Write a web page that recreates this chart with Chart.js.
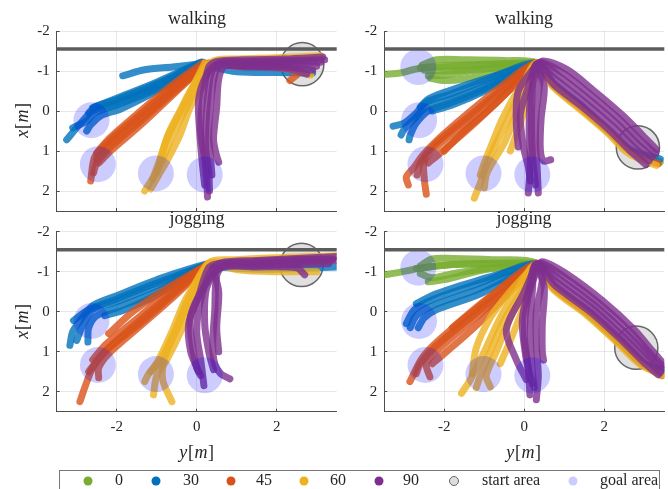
<!DOCTYPE html>
<html>
<head>
<meta charset="utf-8">
<script src="https://cdn.jsdelivr.net/npm/chart.js@4.4.1/dist/chart.umd.min.js"></script>
<style>
  body { margin:0; width:668px; height:489px; overflow:hidden; position:relative; background:#fff;
         font-family:"Liberation Serif", "DejaVu Serif", serif; color:#262626; }
  canvas { position:absolute; }
  .t { position:absolute; transform:translate(-50%,-50%); white-space:nowrap; font-size:18px; }
  .ax { position:absolute; white-space:nowrap; font-size:18px; letter-spacing:0.6px; }
  #legend { position:absolute; left:59px; top:470px; width:601px; height:30px; box-sizing:border-box;
            border:1.5px solid #777; }
  #legend .m { position:absolute; width:9px; height:9px; border-radius:50%; transform:translate(-50%,-50%); top:10px; }
  #legend .l { position:absolute; transform:translate(-50%,-50%); top:9px; font-size:16px; white-space:nowrap; }
</style>
</head>
<body>
<canvas id="c1" width="345" height="215" style="left:0;top:0"></canvas>
<canvas id="c2" width="338" height="215" style="left:330px;top:0"></canvas>
<canvas id="c3" width="345" height="222" style="left:0;top:225px"></canvas>
<canvas id="c4" width="338" height="222" style="left:330px;top:225px"></canvas>

<div class="t" style="left:197px;top:18px">walking</div>
<div class="t" style="left:524px;top:18px">walking</div>
<div class="t" style="left:197px;top:218px">jogging</div>
<div class="t" style="left:524px;top:218px">jogging</div>
<div class="ax" style="left:22px;top:120px;transform:translate(-50%,-50%) rotate(-90deg)"><i>x</i>[<i>m</i>]</div>
<div class="ax" style="left:22px;top:321px;transform:translate(-50%,-50%) rotate(-90deg)"><i>x</i>[<i>m</i>]</div>
<div class="ax" style="left:197px;top:452px;transform:translate(-50%,-50%)"><i>y</i>[<i>m</i>]</div>
<div class="ax" style="left:524px;top:452px;transform:translate(-50%,-50%)"><i>y</i>[<i>m</i>]</div>
<div id="legend"></div>

<script>
// ---- data (y[m] horizontal, x[m] vertical) ----
const angles = ['0', '30', '45', '60', '90'];
const xTicks = [-2, 0, 2];
const yTicks = [-2, -1, 0, 1, 2];
const wallX = -1.55;
const goalY = [-2.65, -2.63, -2.47, -1.02, 0.2];
const goalX = [-1.1, 0.23, 1.33, 1.56, 1.59];
const goalRadius = 0.45;
const startRadius = 0.54;
const startWalkA = [2.64, -1.17];
const startWalkB = [2.84, 0.91];
const startJogA = [2.62, -1.17];
const startJogB = [2.8, 0.9];

// walking, start top right
const walkA30 = [
  [[2.9,-0.95],[2.0,-0.96],[1.0,-0.98],[0.4,-1.1],[0.1,-1.2],[-1.0,-0.62],[-2.0,-0.2],[-2.6,0.0],[-2.9,0.3],[-3.25,0.72]],
  [[0.15,-1.22],[-1.0,-0.68],[-2.0,-0.28],[-2.55,-0.1],[-2.7,0.05]],
  [[0.2,-1.2],[-1.0,-0.55],[-2.0,-0.15],[-2.55,0.05],[-2.75,0.25],[-3.1,0.42]],
  [[0.2,-1.18],[-1.0,-0.5],[-1.9,-0.05],[-2.4,0.12],[-2.65,0.35],[-2.75,0.5]],
  [[0.1,-1.22],[-1.0,-0.72],[-2.0,-0.32],[-2.6,-0.08]],
  [[0.1,-1.18],[-0.6,-1.1],[-1.3,-1.03],[-1.85,-0.88]]
];
const walkA45 = [
  [[2.33,-0.76],[2.55,-0.98],[2.0,-1.1],[1.0,-1.12],[0.3,-1.18],[-0.6,-0.6],[-1.4,0.08],[-2.2,0.75],[-2.55,1.15],[-2.65,1.75]],
  [[0.25,-1.18],[-0.6,-0.45],[-1.4,0.25],[-2.2,0.95],[-2.5,1.3],[-2.58,1.55]],
  [[0.3,-1.2],[-0.6,-0.52],[-1.4,0.18],[-2.25,0.88],[-2.5,1.2]],
  [[0.2,-1.15],[-0.6,-0.4],[-1.4,0.35],[-2.15,1.0],[-2.45,1.3]],
  [[0.15,-1.2],[-0.6,-0.66],[-1.4,0.0],[-2.2,0.7],[-2.5,1.05]]
];
const walkA60 = [
  [[3.1,-1.38],[2.0,-1.33],[1.0,-1.3],[0.4,-1.24],[0.0,-0.6],[-0.3,0.0],[-0.6,0.6],[-0.85,1.2],[-1.05,1.6],[-1.3,2.0]],
  [[2.85,-0.9],[2.3,-1.05],[1.5,-1.14],[0.35,-1.2],[-0.1,-0.6],[-0.42,0.0],[-0.72,0.6],[-0.9,1.2],[-1.0,1.55]],
  [[0.3,-1.15],[0.05,-0.55],[-0.2,0.0],[-0.42,0.6],[-0.72,1.2],[-0.95,1.6],[-1.15,1.95]],
  [[0.2,-1.2],[-0.15,-0.5],[-0.45,0.1],[-0.75,0.7],[-0.95,1.3],[-1.1,1.7]]
];
const walkA90 = [
  [[3.15,-1.35],[2.2,-1.3],[1.2,-1.28],[0.5,-1.24],[0.3,-1.1],[0.15,-0.3],[0.1,0.5],[0.2,1.2],[0.25,1.7],[0.27,2.15]],
  [[3.1,-1.22],[2.2,-1.22],[1.2,-1.2],[0.6,-1.18],[0.45,-0.9],[0.35,-0.2],[0.3,0.6],[0.35,1.2],[0.38,1.6]],
  [[3.0,-1.12],[2.2,-1.15],[1.2,-1.14],[0.7,-1.12],[0.55,-0.8],[0.5,-0.1],[0.42,0.7],[0.48,1.05],[0.55,1.28]],
  [[2.9,-1.02],[2.2,-1.1],[1.2,-1.1],[0.5,-1.15],[0.25,-0.9],[0.05,-0.3],[0.08,0.6],[0.15,1.4],[0.2,1.85]],
  [[3.2,-1.28],[2.4,-1.26],[1.2,-1.24],[0.55,-1.2],[0.35,-0.9],[0.25,0.0],[0.22,0.9],[0.3,1.5],[0.32,2.0]],
  [[2.75,-0.92],[2.3,-1.05],[1.5,-1.12],[0.8,-1.15]]
];

// walking, start lower right
const walkB0 = [
  [[3.4,1.28],[2.7,1.0],[2.1,0.52],[1.4,-0.08],[0.72,-0.65],[0.3,-1.2],[-0.5,-1.26],[-1.5,-1.28],[-2.2,-1.28],[-2.55,-1.15]],
  [[0.3,-1.2],[-0.5,-1.18],[-1.5,-1.15],[-2.2,-1.12],[-2.6,-1.08]],
  [[0.3,-1.2],[-0.5,-1.1],[-1.5,-1.02],[-2.2,-1.0],[-2.5,-1.02]],
  [[0.3,-1.18],[-0.6,-0.98],[-1.5,-0.8],[-2.0,-0.76],[-2.35,-0.82]],
  [[0.3,-1.22],[-1.0,-1.15],[-2.0,-1.1],[-2.7,-1.05],[-3.1,-0.95],[-3.5,-0.92]],
  [[0.3,-1.2],[-1.0,-1.05],[-2.0,-0.9],[-2.4,-0.88]]
];
const walkB30 = [
  [[3.4,1.2],[2.6,0.95],[2.1,0.5],[1.45,-0.12],[0.75,-0.68],[0.3,-1.2],[-1.0,-0.75],[-1.85,-0.42],[-2.45,-0.22],[-2.7,0.05],[-3.0,0.3],[-3.28,0.38]],
  [[0.3,-1.18],[-1.0,-0.62],[-1.85,-0.3],[-2.45,-0.1],[-2.75,0.2],[-3.0,0.45],[-3.08,0.6]],
  [[0.25,-1.2],[-1.0,-0.55],[-1.85,-0.2],[-2.4,0.0],[-2.7,0.3],[-2.85,0.6],[-2.88,0.72]],
  [[0.3,-1.2],[-1.0,-0.8],[-1.9,-0.5],[-2.4,-0.3],[-2.6,-0.1]],
  [[0.3,-1.2],[-1.0,-0.5],[-1.8,-0.15],[-2.3,0.0]]
];
const walkB45 = [
  [[3.35,1.32],[2.66,1.03],[2.12,0.53],[1.42,-0.07],[0.72,-0.64],[0.3,-1.18],[-0.6,-0.6],[-1.4,0.05],[-2.2,0.75],[-2.55,1.12],[-2.75,1.4],[-2.95,1.65],[-2.9,1.85]],
  [[0.28,-1.18],[-0.6,-0.45],[-1.4,0.25],[-2.2,0.9],[-2.5,1.25],[-2.5,1.7],[-2.45,2.08]],
  [[0.3,-1.2],[-0.6,-0.3],[-1.4,0.45],[-2.1,1.05],[-2.4,1.3]],
  [[0.25,-1.2],[-0.6,-0.52],[-1.4,0.15],[-2.25,0.85],[-2.6,1.3],[-2.68,1.6]],
  [[0.3,-1.2],[-0.7,-0.2],[-1.5,0.5],[-2.0,1.0]]
];
const walkB60 = [
  [[3.3,1.36],[2.6,1.06],[2.08,0.55],[1.38,-0.05],[0.7,-0.62],[0.3,-1.2],[-0.1,-0.5],[-0.4,0.2],[-0.7,0.8],[-0.95,1.35],[-1.1,1.8],[-1.25,2.18]],
  [[0.28,-1.18],[0.0,-0.5],[-0.25,0.2],[-0.5,0.8],[-0.8,1.3],[-0.95,1.6],[-1.0,1.92]],
  [[0.3,-1.2],[-0.2,-0.45],[-0.55,0.2],[-0.8,0.8],[-1.0,1.3],[-1.1,1.6]],
  [[0.3,-1.2],[0.1,-0.4],[-0.1,0.3],[-0.35,1.0]]
];
const walkB90 = [
  [[3.3,0.96],[2.96,0.61],[2.46,0.11],[1.76,-0.49],[1.06,-1.04],[0.45,-1.25],[0.3,-1.0],[0.15,-0.3],[0.12,0.5],[0.15,1.3],[0.1,2.05]],
  [[3.28,1.06],[2.88,0.71],[2.38,0.21],[1.68,-0.39],[0.98,-0.94],[0.4,-1.22],[0.4,-0.8],[0.3,0.0],[0.28,0.8],[0.32,1.4],[0.35,2.05]],
  [[3.2,1.15],[2.8,0.8],[2.3,0.3],[1.6,-0.3],[0.9,-0.85],[0.35,-1.2],[0.1,-0.6],[-0.1,0.1],[-0.02,0.9],[0.1,1.4],[0.15,1.75]],
  [[3.12,1.24],[2.72,0.89],[2.22,0.39],[1.52,-0.21],[0.82,-0.76],[0.35,-1.15],[0.5,-0.6],[0.42,0.2],[0.4,0.95],[0.48,1.25],[0.66,1.22]],
  [[3.04,1.34],[2.64,0.99],[2.14,0.49],[1.44,-0.11],[0.74,-0.66],[0.3,-1.18],[0.2,-0.5],[0.18,0.5],[0.22,1.3],[0.28,1.85]],
  [[0.3,-1.15],[-0.15,-0.5],[-0.2,0.3],[-0.15,0.9]]
];

// jogging, start top right
const jogA30 = [
  [[3.5,-1.12],[2.5,-1.08],[1.5,-1.06],[0.6,-1.12],[0.3,-1.2],[-1.0,-0.8],[-2.0,-0.4],[-2.6,-0.15],[-2.9,0.2],[-3.1,0.5],[-3.17,0.84]],
  [[0.3,-1.2],[-1.0,-0.65],[-2.0,-0.25],[-2.6,-0.05],[-2.85,0.35],[-3.0,0.72]],
  [[0.3,-1.2],[-1.0,-0.5],[-2.0,-0.1],[-2.5,0.1],[-2.7,0.4],[-2.72,0.76]],
  [[0.3,-1.2],[-1.0,-0.72],[-2.0,-0.32],[-2.7,-0.05],[-3.08,0.22]],
  [[0.3,-1.2],[-1.0,-0.42],[-1.8,-0.05],[-2.3,0.1]]
];
const jogA45 = [
  [[3.4,-1.3],[2.0,-1.22],[0.8,-1.2],[0.3,-1.2],[-0.6,-0.48],[-1.4,0.2],[-2.2,0.9],[-2.55,1.3],[-2.7,1.5]],
  [[0.3,-1.2],[-0.6,-0.35],[-1.4,0.35],[-2.2,1.05],[-2.45,1.4],[-2.45,1.65]],
  [[0.28,-1.18],[-0.6,-0.58],[-1.4,0.1],[-2.25,0.8],[-2.6,1.2]],
  [[0.3,-1.2],[-0.6,-0.42],[-1.4,0.28],[-2.3,1.0],[-2.6,1.4],[-2.8,1.9],[-2.92,2.25]],
  [[0.3,-1.2],[-0.8,-0.55],[-1.6,0.0],[-2.2,0.55]]
];
const jogA60 = [
  [[3.5,-1.4],[2.0,-1.35],[1.0,-1.3],[0.3,-1.22],[-0.2,-0.35],[-0.55,0.5],[-0.9,1.2],[-1.2,1.55],[-1.3,1.75]],
  [[3.0,-1.0],[2.0,-1.0],[1.0,-1.05],[0.3,-1.2],[-0.05,-0.35],[-0.4,0.5],[-0.75,1.2],[-1.0,1.6],[-1.08,2.08]],
  [[0.3,-1.2],[-0.12,-0.4],[-0.5,0.45],[-0.8,1.15],[-0.85,1.7],[-0.62,2.25]],
  [[0.28,-1.2],[-0.28,-0.3],[-0.62,0.5],[-0.95,1.2],[-1.15,1.5]]
];
const jogA90 = [
  [[3.5,-1.38],[2.5,-1.33],[1.5,-1.28],[0.6,-1.22],[0.35,-1.0],[0.1,-0.3],[0.0,0.5],[0.1,1.2],[0.15,1.6],[0.18,1.85]],
  [[3.5,-1.28],[2.6,-1.25],[1.5,-1.2],[0.7,-1.18],[0.5,-0.9],[0.45,0.0],[0.4,0.8],[0.45,1.3],[0.6,1.55],[0.83,1.68]],
  [[3.3,-1.2],[2.5,-1.18],[1.5,-1.15],[0.65,-1.12],[0.3,-0.8],[-0.15,0.1],[-0.1,0.9],[0.0,1.4],[0.1,1.6]],
  [[2.7,-0.92],[2.5,-1.1],[1.5,-1.12],[0.6,-1.1],[0.25,-0.6],[0.2,0.3],[0.3,1.0],[0.42,1.45]],
  [[3.4,-1.32],[2.4,-1.3],[1.4,-1.25],[0.55,-1.2],[0.3,-1.1],[0.05,-0.4],[-0.2,0.3],[-0.15,1.0],[0.05,1.5]],
  [[0.4,-1.1],[0.55,-0.5],[0.5,0.4],[0.55,1.0]]
];

// jogging, start lower right
const jogB0 = [
  [[3.5,1.55],[2.9,1.27],[2.4,0.8],[1.6,0.08],[0.72,-0.62],[0.3,-1.22],[-0.8,-1.3],[-1.8,-1.33],[-2.3,-1.32],[-2.6,-1.15]],
  [[0.3,-1.2],[-0.8,-1.2],[-1.8,-1.18],[-2.5,-1.1],[-2.7,-1.08]],
  [[0.3,-1.2],[-0.8,-1.1],[-1.8,-0.95],[-2.3,-0.85],[-2.6,-0.95]],
  [[0.3,-1.2],[-1.0,-1.05],[-2.0,-0.8],[-2.4,-0.75]],
  [[0.3,-1.22],[-1.2,-1.2],[-2.2,-1.15],[-2.8,-1.05],[-3.2,-0.97],[-3.5,-0.92]]
];
const jogB30 = [
  [[3.5,1.45],[2.95,1.28],[2.45,0.78],[1.65,0.05],[0.75,-0.63],[0.3,-1.2],[-1.1,-0.72],[-2.3,-0.3],[-2.75,-0.05],[-2.95,0.3]],
  [[0.3,-1.2],[-1.1,-0.58],[-2.3,-0.15],[-2.7,0.1],[-2.85,0.4]],
  [[0.3,-1.2],[-1.1,-0.45],[-2.2,-0.05],[-2.5,0.15],[-2.65,0.4]],
  [[0.3,-1.2],[-1.1,-0.8],[-2.2,-0.45],[-2.7,-0.2]]
];
const jogB45 = [
  [[3.45,1.6],[2.93,1.3],[2.42,0.8],[1.62,0.07],[0.72,-0.6],[0.3,-1.2],[-1.1,-0.15],[-2.1,0.68],[-2.55,1.15],[-2.86,1.75]],
  [[0.3,-1.2],[-1.1,0.05],[-2.1,0.9],[-2.45,1.3],[-2.36,1.63]],
  [[0.3,-1.2],[-1.1,0.25],[-2.0,1.05],[-2.3,1.3]],
  [[0.3,-1.2],[-1.1,-0.05],[-2.2,0.85],[-2.6,1.3],[-2.7,1.55]],
  [[0.3,-1.2],[-0.9,-0.35],[-1.8,0.4]]
];
const jogB60 = [
  [[3.5,1.6],[2.9,1.32],[2.38,0.83],[1.58,0.1],[0.7,-0.58],[0.3,-1.2],[-0.2,-0.5],[-0.6,0.15],[-1.0,1.0],[-1.35,1.7],[-1.57,2.04]],
  [[0.3,-1.2],[0.0,-0.5],[-0.35,0.15],[-0.7,1.0],[-0.95,1.6],[-0.85,1.88]],
  [[0.3,-1.2],[-0.4,-0.45],[-0.85,0.15],[-1.2,0.9],[-1.3,1.55]],
  [[0.3,-1.2],[-0.1,-0.45],[-0.5,0.2],[-0.85,1.0],[-1.1,1.6],[-1.2,1.9]],
  [[0.3,-1.2],[0.05,-0.3],[-0.3,0.6],[-0.6,1.3]]
];
const jogB90 = [
  [[3.5,1.32],[3.2,0.98],[2.75,0.45],[1.95,-0.28],[1.05,-0.95],[0.45,-1.25],[0.3,-1.0],[0.08,-0.3],[0.0,0.6],[0.1,1.4],[0.14,2.08]],
  [[3.5,1.4],[3.15,1.05],[2.68,0.53],[1.88,-0.2],[0.98,-0.88],[0.4,-1.22],[0.45,-0.8],[0.3,0.0],[0.3,0.8],[0.35,1.6],[0.3,2.2]],
  [[3.45,1.45],[3.1,1.1],[2.6,0.6],[1.8,-0.13],[0.9,-0.8],[0.3,-1.2],[0.15,-0.7],[-0.05,0.2],[0.05,1.2],[0.2,1.8]],
  [[3.4,1.52],[3.03,1.17],[2.53,0.68],[1.73,-0.06],[0.83,-0.73],[0.35,-1.15],[0.5,-0.6],[0.45,0.3],[0.45,1.0],[0.48,1.21]],
  [[3.35,1.58],[2.97,1.25],[2.47,0.75],[1.67,0.02],[0.77,-0.65],[0.3,-1.18],[0.2,-0.5],[0.15,0.5],[0.2,1.5],[0.25,1.9]],
  [[0.3,-1.2],[0.0,-0.5],[-0.45,0.45],[-0.2,1.2],[0.05,1.7]]
];

// ---- styling ----
const angleColor = { '0':[119,172,48], '30':[0,114,189], '45':[217,83,25], '60':[237,177,32], '90':[126,47,142] };
const rgba = (k, a) => `rgba(${angleColor[k].join(',')},${a})`;
const tickFont = { family: '"Liberation Serif", serif', size: 15 };
const axisColor = '#4d4d4d';

const panels = [
  { id:'c1', padTop:31, padRight:8.3, yW:56.7, xH:4, labels:false, start:startWalkA, firstGoal:1,
    sets:[[walkA30,'30'],[walkA45,'45'],[walkA60,'60'],[walkA90,'90']] },
  { id:'c2', padTop:31, padRight:3.7, yW:54.3, xH:4, labels:false, start:startWalkB, firstGoal:0,
    sets:[[walkB0,'0'],[walkB30,'30'],[walkB45,'45'],[walkB60,'60'],[walkB90,'90']] },
  { id:'c3', padTop:6.7, padRight:8.3, yW:56.7, xH:35.3, labels:true, start:startJogA, firstGoal:1,
    sets:[[jogA30,'30'],[jogA45,'45'],[jogA60,'60'],[jogA90,'90']] },
  { id:'c4', padTop:6.7, padRight:3.7, yW:54.3, xH:35.3, labels:true, start:startJogB, firstGoal:0,
    sets:[[jogB0,'0'],[jogB30,'30'],[jogB45,'45'],[jogB60,'60'],[jogB90,'90']] }
];

// radius in metres -> pixels through the x scale
const radiusOf = r => ctx => {
  const s = ctx.chart.scales.x;
  return s ? Math.abs(s.getPixelForValue(r) - s.getPixelForValue(0)) : 0;
};

function buildDatasets(p) {
  const list = [];
  list.push({ data:[{ x:p.start[0], y:p.start[1] }], showLine:false,
    pointRadius: radiusOf(startRadius), pointBackgroundColor:'rgba(160,160,160,0.32)',
    pointBorderColor:'#666', pointBorderWidth:1.5 });
  p.sets.forEach(([trajs, key]) => {
    trajs.forEach(t => list.push({
      data: t.map(q => ({ x:q[0], y:q[1] })), showLine:true, pointRadius:0,
      borderColor: rgba(key, 0.8), borderWidth:7, tension:0.3,
      borderCapStyle:'round', borderJoinStyle:'round'
    }));
  });
  const goals = goalY.slice(p.firstGoal).map((v, i) => ({ x:v, y:goalX[p.firstGoal + i] }));
  list.push({ data:goals, showLine:false, pointRadius: radiusOf(goalRadius),
    pointBackgroundColor:'rgba(0,0,255,0.2)', pointBorderWidth:0, pointBorderColor:'rgba(0,0,0,0)' });
  list.push({ data:[{ x:-4, y:wallX }, { x:4, y:wallX }], showLine:true, pointRadius:0,
    borderColor:'#5c5c5c', borderWidth:3.5 });
  list.forEach((d, i) => d.order = list.length - i);
  return list;
}

panels.forEach(p => {
  new Chart(document.getElementById(p.id), {
    type: 'scatter',
    data: { datasets: buildDatasets(p) },
    options: {
      responsive:false, animation:false, events:[],
      layout: { padding: { top:p.padTop, right:p.padRight, left:0, bottom:0 } },
      plugins: { legend:{ display:false }, tooltip:{ enabled:false } },
      scales: {
        x: {
          type:'linear', min:-3.5, max:3.5,
          afterBuildTicks: s => { s.ticks = xTicks.map(v => ({ value:v })); },
          ticks: { display:p.labels, font:tickFont, color:'#262626', padding:9, autoSkip:false, maxRotation:0 },
          grid: { color:'rgba(0,0,0,0.09)', tickColor:axisColor, tickLength:-3 },
          border: { color:axisColor, width:1 },
          afterFit: s => { s.height = p.xH; s.paddingLeft = 0; s.paddingRight = 0; }
        },
        y: {
          type:'linear', reverse:true, min:-2, max:2.5,
          afterBuildTicks: s => { s.ticks = yTicks.map(v => ({ value:v })); },
          ticks: { font:tickFont, color:'#262626', padding:10, autoSkip:false },
          grid: { color:'rgba(0,0,0,0.09)', tickColor:axisColor, tickLength:-3 },
          border: { color:axisColor, width:1 },
          afterFit: s => { s.width = p.yW; s.paddingTop = 0; s.paddingBottom = 0; }
        }
      }
    }
  });
});

// ---- legend ----
const legendLabels = ['0', '30', '45', '60', '90', 'start area', 'goal area'];
const legendMarkX = [28, 96, 171, 244, 319, 394, 513];
const legendTextX = [59, 131, 204, 278, 351, 451, 569];
const legend = document.getElementById('legend');
legendLabels.forEach((lab, i) => {
  const m = document.createElement('div');
  m.className = 'm';
  m.style.left = legendMarkX[i] + 'px';
  if (i < 5) m.style.background = rgba(angles[i], 1);
  else if (i === 5) { m.style.background = '#ddd'; m.style.border = '1.5px solid #666'; m.style.boxSizing = 'border-box'; m.style.width = '10px'; m.style.height = '10px'; }
  else m.style.background = '#ccccff';
  legend.appendChild(m);
  const t = document.createElement('div');
  t.className = 'l';
  t.style.left = legendTextX[i] + 'px';
  t.textContent = lab;
  legend.appendChild(t);
});
</script>
</body>
</html>
